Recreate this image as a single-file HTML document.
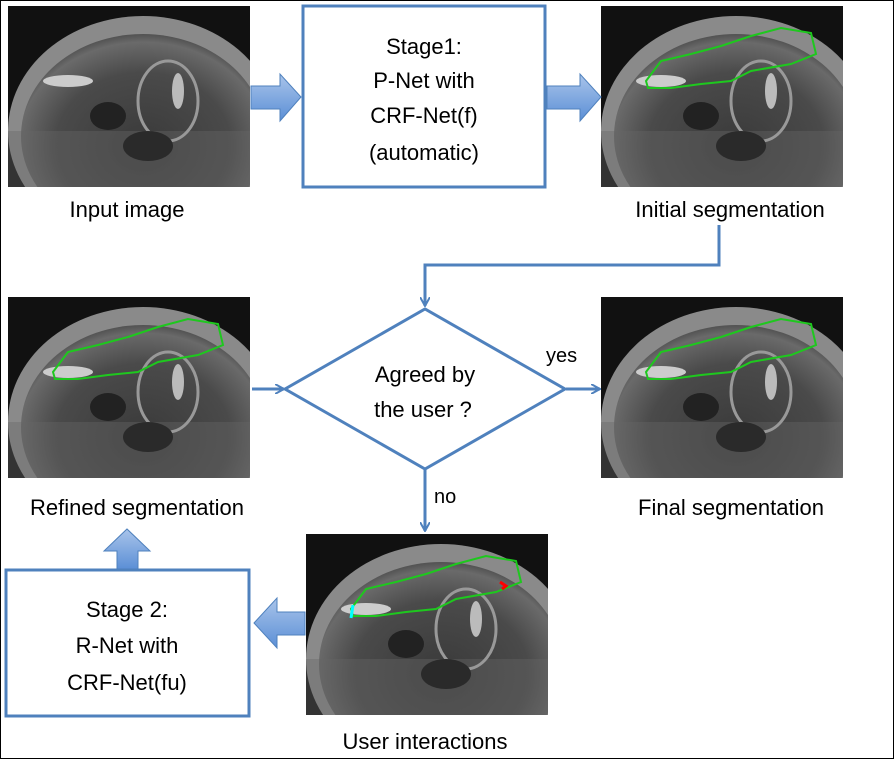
<!DOCTYPE html>
<html><head><style>
body{margin:0;background:#fff;}
svg{display:block;}
text{font-family:"Liberation Sans",sans-serif;fill:#000;}
</style></head><body>
<svg width="894" height="759" viewBox="0 0 894 759" xmlns="http://www.w3.org/2000/svg">
<defs>
<radialGradient id="mri" cx="0.5" cy="0.55" r="0.6">
<stop offset="0" stop-color="#3a3a3a"/>
<stop offset="0.6" stop-color="#4a4a4a"/>
<stop offset="0.85" stop-color="#6a6a6a"/>
<stop offset="1" stop-color="#333"/>
</radialGradient>
<clipPath id="cp"><rect width="242" height="181"/></clipPath>
<g id="img" clip-path="url(#cp)">
<rect width="242" height="181" fill="#111"/>
<ellipse cx="135" cy="125" rx="135" ry="115" fill="#8a8a8a"/>
<ellipse cx="135" cy="130" rx="122" ry="102" fill="url(#mri)"/>
<rect x="0" y="125" width="242" height="56" fill="#666" opacity="0.4"/>
<ellipse cx="60" cy="75" rx="25" ry="6" fill="#ccc"/>
<ellipse cx="170" cy="85" rx="6" ry="18" fill="#bbb"/>
<ellipse cx="160" cy="95" rx="30" ry="40" fill="none" stroke="#999" stroke-width="3"/>
<ellipse cx="100" cy="110" rx="18" ry="14" fill="#222"/>
<ellipse cx="140" cy="140" rx="25" ry="15" fill="#2a2a2a"/>
</g>
<path id="seg" d="M45,75 L60,55 L90,48 L120,40 L150,30 L180,22 L210,27 L215,48 L190,58 L150,65 L130,75 L100,78 L70,82 L47,82 Z" fill="none" stroke="#1ec81e" stroke-width="2"/>
<marker id="ah" markerWidth="10" markerHeight="10" refX="9" refY="5" orient="auto" markerUnits="userSpaceOnUse"><path d="M0,0 L9,5 L0,10" fill="none" stroke="#4f81bd" stroke-width="2"/></marker>
<linearGradient id="ba" x1="0" y1="0" x2="0" y2="1"><stop offset="0" stop-color="#a9c4ea"/><stop offset="1" stop-color="#5b8fd6"/></linearGradient>
</defs>
<rect x="0.5" y="0.5" width="893" height="758" fill="#fff" stroke="#000" stroke-width="1"/>

<use href="#img" x="8" y="6"/>
<use href="#img" x="601" y="6"/>
<use href="#seg" x="601" y="6"/>
<use href="#img" x="8" y="297"/>
<use href="#seg" x="8" y="297"/>
<use href="#img" x="601" y="297"/>
<use href="#seg" x="601" y="297"/>
<use href="#img" x="306" y="534"/>
<use href="#seg" x="306" y="534"/>
<path d="M500,582 L506,586 L502,589" stroke="#f00" stroke-width="3" fill="none"/>
<path d="M353,605 L351,618" stroke="#0ff" stroke-width="3"/>

<rect x="303" y="6" width="242" height="181" fill="#fff" stroke="#4f81bd" stroke-width="3"/>
<text x="424" y="54" font-size="22" text-anchor="middle">Stage1:</text>
<text x="424" y="88" font-size="22" text-anchor="middle">P-Net with</text>
<text x="424" y="123" font-size="22" text-anchor="middle">CRF-Net(f)</text>
<text x="424" y="160" font-size="22" text-anchor="middle">(automatic)</text>

<rect x="6" y="570" width="243" height="146" fill="#fff" stroke="#4f81bd" stroke-width="3"/>
<text x="127" y="617" font-size="22" text-anchor="middle">Stage 2:</text>
<text x="127" y="653" font-size="22" text-anchor="middle">R-Net with</text>
<text x="127" y="690" font-size="22" text-anchor="middle">CRF-Net(fu)</text>

<path d="M251,86 L280,86 L280,74 L301,97 L280,121 L280,109 L251,109 Z" fill="url(#ba)" stroke="#4f81bd" stroke-width="1"/>
<path d="M547,86 L580,86 L580,74 L601,97 L580,121 L580,109 L547,109 Z" fill="url(#ba)" stroke="#4f81bd" stroke-width="1"/>
<path d="M305,612 L305,635 L277,635 L277,648 L254,623 L277,598 L277,612 Z" fill="url(#ba)" stroke="#4f81bd" stroke-width="1"/>
<path d="M117,569 L117,551 L104,551 L127,529 L150,551 L138,551 L138,569 Z" fill="url(#ba)" stroke="#4f81bd" stroke-width="1"/>

<path d="M719,225 L719,265 L425,265 L425,306" fill="none" stroke="#4f81bd" stroke-width="3" marker-end="url(#ah)"/>
<polygon points="285,389 425,309 565,389 425,469" fill="#fff" stroke="#4f81bd" stroke-width="3"/>
<path d="M252,389 L284,389" stroke="#4f81bd" stroke-width="3" marker-end="url(#ah)"/>
<path d="M566,389 L600,389" stroke="#4f81bd" stroke-width="3" marker-end="url(#ah)"/>
<path d="M425,469 L425,531" stroke="#4f81bd" stroke-width="3" marker-end="url(#ah)"/>

<text x="425" y="382" font-size="22" text-anchor="middle">Agreed by</text>
<text x="423" y="417" font-size="22" text-anchor="middle">the user ?</text>
<text x="546" y="362" font-size="20">yes</text>
<text x="434" y="503" font-size="20">no</text>

<text x="127" y="217" font-size="22" text-anchor="middle">Input image</text>
<text x="730" y="217" font-size="22" text-anchor="middle">Initial segmentation</text>
<text x="137" y="515" font-size="22" text-anchor="middle">Refined segmentation</text>
<text x="731" y="515" font-size="22" text-anchor="middle">Final segmentation</text>
<text x="425" y="749" font-size="22" text-anchor="middle">User interactions</text>
</svg>
</body></html>
